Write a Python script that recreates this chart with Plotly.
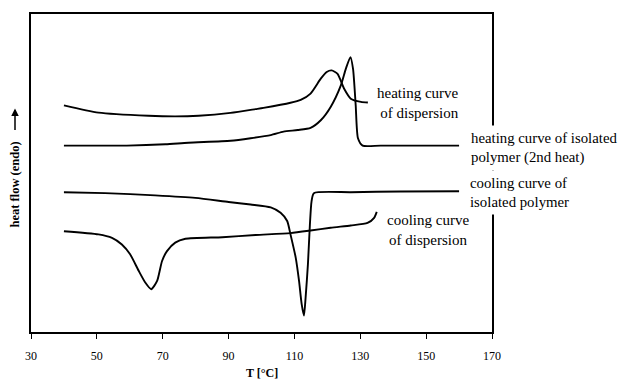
import plotly.graph_objects as go

# heating curve of dispersion
heat_disp_T = [40, 50.5, 65.7, 73.8, 80.9, 90.6, 98.2, 100.6, 108.8, 111.9, 114.9, 118.0,
               119.8, 121.3, 123.1, 125.1, 127.1, 130.2, 132.3]
heat_disp_hf = [71.5, 69.2, 68.2, 68.0, 68.2, 69.1, 70.3, 70.7, 72.3, 73.2, 75.2, 79.9,
                82.0, 82.5, 81.4, 76.7, 73.6, 72.6, 72.4]

# heating curve of isolated polymer (2nd heat)
heat_poly_T = [40, 59.1, 70.8, 77.8, 90.6, 96.7, 102.8, 106.7, 111.0, 114.9, 118.0, 121.0,
               124.1, 125.6, 127.0, 127.8, 128.6, 129.3, 130.7, 136.2, 160]
heat_poly_hf = [58.8, 58.8, 59.2, 59.7, 60.3, 61.1, 62.1, 63.2, 63.7, 64.4, 66.8, 71.0,
                77.8, 83.0, 86.7, 83.0, 71.6, 61.1, 58.8, 58.8, 58.8]

# cooling curve of isolated polymer
cool_poly_T = [40, 52.5, 67.7, 79.9, 90.0, 96.7, 102.8, 105.8, 107.8, 108.8, 110.4, 111.4,
               112.2, 112.9, 113.4, 114.1, 114.7, 115.2, 115.9, 127.1, 142.3, 160]
cool_poly_hf = [44.1, 43.8, 43.1, 42.3, 41.0, 40.2, 39.3, 37.6, 35.0, 30.8, 23.4, 16.1,
                8.8, 5.2, 10.9, 21.4, 33.9, 41.2, 43.8, 44.1, 44.3, 44.4]

# cooling curve of dispersion
cool_disp_T = [40, 50.5, 54.6, 57.6, 60.1, 62.7, 64.7, 66.5, 68.3, 69.8, 71.3, 73.8, 76.9,
               88.1, 98.2, 108.8, 114.9, 121.0, 127.1, 132.2, 134.2, 135.0]
cool_disp_hf = [31.8, 30.8, 29.7, 27.6, 24.5, 19.3, 15.6, 13.5, 16.1, 22.4, 25.5, 28.2, 29.4,
                29.9, 30.6, 31.2, 32.0, 32.9, 33.6, 34.4, 36.0, 37.9]

x_ticks = [30, 50, 70, 90, 110, 130, 150, 170]

FONT = "Liberation Serif, 'Times New Roman', Times, serif"

fig = go.Figure()
for T, hf in [(heat_disp_T, heat_disp_hf), (heat_poly_T, heat_poly_hf),
              (cool_poly_T, cool_poly_hf), (cool_disp_T, cool_disp_hf)]:
    fig.add_trace(go.Scatter(x=T, y=hf, mode="lines",
                             line=dict(color="black", width=1.9, shape="spline", smoothing=0.6),
                             showlegend=False, hoverinfo="skip"))

fig.update_layout(
    width=621, height=379,
    margin=dict(l=31, r=129, t=12, b=47),
    paper_bgcolor="white", plot_bgcolor="white",
    font=dict(family=FONT, color="black", size=11),
    xaxis=dict(range=[30, 170], tickvals=x_ticks, ticktext=[str(v) for v in x_ticks],
               showgrid=False, zeroline=False, showline=True, linecolor="black", linewidth=1.6,
               mirror=True, ticks="outside", ticklen=5, tickwidth=1, tickcolor="black",
               ticklabelstandoff=7, tickfont=dict(family=FONT, size=12)),
    yaxis=dict(range=[0, 100.3], showgrid=False, zeroline=False, showline=True,
               linecolor="black", linewidth=1.6, mirror=True, ticks="", showticklabels=False),
)

ann = [
    dict(text="<b>T [°C]</b>", x=0.501, y=-0.128, xref="paper", yref="paper",
         showarrow=False, font=dict(family=FONT, size=12), xanchor="center", yanchor="middle"),
    dict(text="<b>heat flow (endo)</b>", x=-0.0347, y=0.464, xref="paper", yref="paper",
         showarrow=False, textangle=-90, font=dict(family=FONT, size=12.5),
         xanchor="center", yanchor="middle"),
    dict(text="", x=-0.0347, y=0.703, xref="paper", yref="paper", showarrow=True,
         ax=0, ay=23, arrowhead=2, arrowsize=1, arrowwidth=1.5, arrowcolor="black"),
    dict(text="heating curve<br>of dispersion", x=0.933, y=0.720, xref="paper", yref="paper",
         showarrow=False, align="right", xanchor="right", yanchor="middle",
         font=dict(family=FONT, size=15)),
    dict(text="heating curve of isolated<br>polymer (2nd heat)", x=0.944, y=0.580,
         xref="paper", yref="paper", showarrow=False, align="left", xanchor="left",
         yanchor="middle", font=dict(family=FONT, size=14.8), bgcolor="white", borderpad=4),
    dict(text="cooling curve of<br>isolated polymer", x=0.942, y=0.4375,
         xref="paper", yref="paper", showarrow=False, align="left", xanchor="left",
         yanchor="middle", font=dict(family=FONT, size=14.8), bgcolor="white", borderpad=4),
    dict(text="cooling curve<br>of dispersion", x=0.862, y=0.322, xref="paper", yref="paper",
         showarrow=False, align="center", xanchor="center", yanchor="middle",
         font=dict(family=FONT, size=15)),
]
fig.update_layout(annotations=ann)

fig.write_html("out.html", config={"displayModeBar": False},
               post_script="document.body.style.margin='0';document.body.style.overflow='hidden';")
